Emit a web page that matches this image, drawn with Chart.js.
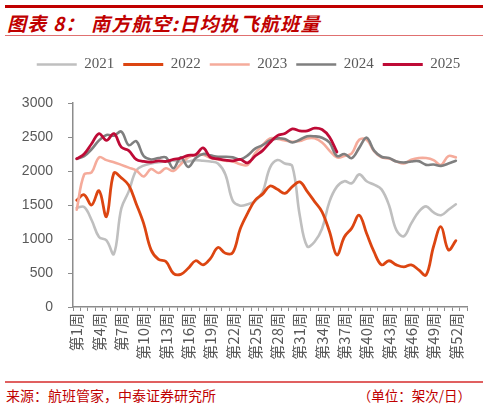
<!DOCTYPE html>
<html>
<head>
<meta charset="utf-8">
<script src="https://cdn.jsdelivr.net/npm/chart.js@4.4.1/dist/chart.umd.min.js"></script>
<style>
  html, body { margin: 0; padding: 0; background: #fff; }
  body { width: 488px; height: 406px; position: relative; overflow: hidden; font-family: "Noto Sans CJK SC", sans-serif; }
  .bar-top { position: absolute; left: 5px; top: 5px; width: 478px; height: 2.5px; background: #c00000; }
  .title { position: absolute; left: 7px; top: 9px; font-size: 19px; font-weight: bold; font-style: italic; color: #c00000; letter-spacing: 1.2px; white-space: nowrap; }
  .bar-title { position: absolute; left: 5px; top: 34.5px; width: 478px; height: 1.5px; background: #e07070; }
  .chart-box { position: absolute; left: 0; top: 40px; width: 488px; height: 340px; }
  .bar-foot { position: absolute; left: 5px; top: 381px; width: 478px; height: 1.5px; background: #e06060; }
  .source { position: absolute; left: 6px; top: 385px; font-size: 14px; color: #c00000; white-space: nowrap; }
  .unit { position: absolute; right: 17px; top: 385px; font-size: 13.5px; color: #c00000; white-space: nowrap; }
</style>
</head>
<body>
<div class="bar-top"></div>
<div class="title">图表 8：&nbsp;南方航空:日均执飞航班量</div>
<div class="bar-title"></div>
<div class="chart-box"><canvas id="flightsChart"></canvas></div>
<div class="bar-foot"></div>
<div class="source">来源：航班管家，中泰证券研究所</div>
<div class="unit">（单位：架次/日）</div>

<script>
// === 南方航空 日均执飞航班量 ===

const weeks = [
  '第1周', '第2周', '第3周', '第4周', '第5周', '第6周', '第7周', '第8周', '第9周', '第10周',
  '第11周', '第12周', '第13周', '第14周', '第15周', '第16周', '第17周', '第18周', '第19周', '第20周',
  '第21周', '第22周', '第23周', '第24周', '第25周', '第26周', '第27周', '第28周', '第29周', '第30周',
  '第31周', '第32周', '第33周', '第34周', '第35周', '第36周', '第37周', '第38周', '第39周', '第40周',
  '第41周', '第42周', '第43周', '第44周', '第45周', '第46周', '第47周', '第48周', '第49周', '第50周',
  '第51周', '第52周', '第53周'
];

const flights2021 = [
  1460, 1470, 1280, 1030, 980, 780, 1450, 1700, 2010, 2080,
  2110, 2130, 2140, 2150, 2140, 2140, 2160, 2150, 2140, 2110,
  1950, 1560, 1490, 1510, 1560, 1690, 2050, 2160, 2110, 2070,
  1350, 890, 960, 1150, 1550, 1770, 1850, 1820, 1950, 1850,
  1800, 1730, 1500, 1130, 1040, 1230, 1400, 1480, 1390, 1350,
  1430, 1510, null
];

const flights2022 = [
  1570, 1650, 1500, 1710, 1330, 1970, 1900, 1790, 1520, 1230,
  840, 700, 670, 495, 480, 570, 680, 620, 715, 875,
  790, 800, 1150, 1380, 1570, 1660, 1780, 1730, 1670, 1770,
  1840, 1700, 1550, 1400, 1110, 765, 1030, 1160, 1350, 1080,
  810, 620, 680, 620, 590, 620, 545, 470, 890, 1180,
  840, 975, null
];

const flights2023 = [
  1430, 1950, 1980, 2200, 2160, 2130, 2090, 2050, 2010, 1920,
  2030, 1970, 2040, 2000, 2100, 2200, 2240, 2240, 2190, 2170,
  2150, 2140, 2100, 2090, 2260, 2380, 2480, 2470, 2450, 2430,
  2440, 2480, 2480, 2420, 2300, 2200, 2220, 2260, 2460, 2460,
  2290, 2200, 2185, 2140, 2110, 2165, 2190, 2190, 2160, 2090,
  2220, 2200, null
];

const flights2024 = [
  2180, 2220, 2320, 2450, 2530, 2520, 2580, 2380, 2440, 2220,
  2170, 2190, 2200, 2040, 2200, 2060, 2190, 2250, 2230, 2210,
  2210, 2200, 2170, 2230, 2330, 2380, 2450, 2480, 2470, 2420,
  2460, 2510, 2510, 2490, 2420, 2220, 2250, 2190, 2340, 2490,
  2300, 2210, 2190, 2140, 2125, 2140, 2145, 2090, 2095, 2075,
  2110, 2150, null
];

const flights2025 = [
  2180, 2250, 2400, 2550, 2450, 2550, 2350, 2300, 2170, 2140,
  2130, 2150, 2140, 2170, 2190, 2230, 2240, 2340, 2200, 2180,
  2160, 2150, 2170, 2120, 2220, 2300, 2420, 2520, 2550, 2620,
  2590, 2590, 2630, 2610, 2500, 2280
];

const yTicks = { min: 0, max: 3000, step: 500 };

const axisGray = '#8c8c8c';
const textGray = '#595959';

// legend: one row, fixed height, nudged right so it sits centred over the plot
const legendTweak = {
  id: 'legendTweak',
  beforeInit(chart) {
    const fit = chart.legend.fit;
    chart.legend.fit = function () {
      this.maxWidth = 480;
      fit.call(this);
      this.height = 55;
    };
  },
  afterLayout(chart) {
    chart.legend.left += 10;
    chart.legend.right += 10;
  }
};

function makeSeries(label, data, color, width, order) {
  return {
    label: label,
    data: data,
    borderColor: color,
    backgroundColor: color,
    borderWidth: width,
    pointRadius: 0,
    pointHoverRadius: 0,
    tension: 0.38,
    borderCapStyle: 'round',
    borderJoinStyle: 'round',
    fill: false,
    order: order
  };
}

const ctx = document.getElementById('flightsChart');

new Chart(ctx, {
  type: 'line',
  data: {
    labels: weeks,
    datasets: [
      makeSeries('2021', flights2021, '#bfbfbf', 2.6, 5),
      makeSeries('2022', flights2022, '#dc4511', 2.8, 4),
      makeSeries('2023', flights2023, '#f5ab9b', 2.6, 3),
      makeSeries('2024', flights2024, '#7f7f7f', 2.6, 2),
      makeSeries('2025', flights2025, '#be0a36', 2.8, 1)
    ]
  },
  options: {
    responsive: true,
    maintainAspectRatio: false,
    animation: false,
    layout: {
      padding: { left: 10, right: 21, top: 8, bottom: 0 }
    },
    plugins: {
      tooltip: { enabled: false },
      legend: {
        position: 'top',
        labels: {
          usePointStyle: true,
          pointStyle: 'line',
          pointStyleWidth: 40,
          padding: 9,
          color: textGray,
          font: { family: '"Liberation Serif", "Times New Roman", serif', size: 15 },
          sort: (a, b) => a.datasetIndex - b.datasetIndex
        }
      }
    },
    scales: {
      x: {
        type: 'category',
        offset: true,
        grid: {
          display: true,
          drawOnChartArea: false,
          drawTicks: true,
          tickLength: 4,
          offset: true,
          color: axisGray
        },
        border: { color: axisGray, width: 1.5 },
        ticks: {
          autoSkip: false,
          minRotation: 90,
          maxRotation: 90,
          padding: 2,
          color: textGray,
          font: { family: '"Noto Sans CJK SC", sans-serif', size: 15 },
          callback: (value, index) => (index % 3 === 0 ? weeks[index] : '')
        },
        afterFit(scale) { scale.height = 73; }
      },
      y: {
        min: yTicks.min,
        max: yTicks.max,
        grid: {
          drawOnChartArea: false,
          drawTicks: true,
          tickLength: 5,
          color: axisGray
        },
        border: { color: axisGray, width: 1.5 },
        ticks: {
          stepSize: yTicks.step,
          padding: 15,
          color: textGray,
          font: { family: '"Liberation Sans", Arial, sans-serif', size: 14 },
          callback: value => String(value)
        },
        afterFit(scale) { scale.width = 63; }
      }
    }
  },
  plugins: [legendTweak]
});
</script>
</body>
</html>
